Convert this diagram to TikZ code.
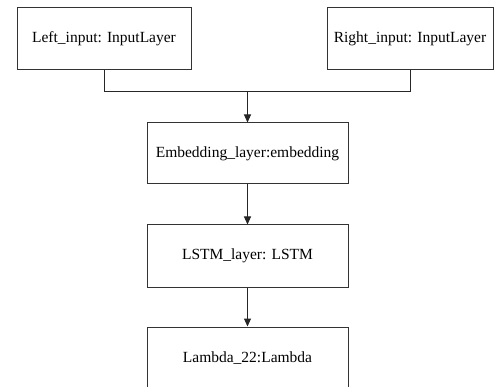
\documentclass[tikz,border=0pt]{standalone}
\usepackage{fontspec}
\setmainfont{Liberation Serif}
\usetikzlibrary{arrows.meta}

\tikzset{
    layerbox/.style={draw=black!80, line width=1pt, fill=white, inner sep=0pt,
        minimum height=62pt, font=\fontsize{15.5}{18}\selectfont},
    link/.style={draw=black!85, line width=1pt},
    flow/.style={link, -{Triangle[length=8pt,width=7pt]}}
}

\begin{document}
\begin{tikzpicture}[x=1pt, y=-1pt]
    \useasboundingbox (0,0) rectangle (495,387);
    \clip (0,0) rectangle (495,387);
    \node[layerbox, minimum width=174pt] (left) at (104,39) {Left\_input: InputLayer};
    \node[layerbox, minimum width=166pt] (right) at (410,39) {Right\_input: InputLayer};
    \node[layerbox, minimum width=201pt, minimum height=61pt] (embed) at (247.5,153.5) {Embedding\_layer:embedding};
    \node[layerbox, minimum width=201pt] (lstm) at (247.5,256) {LSTM\_layer: LSTM};
    \node[layerbox, minimum width=201pt] (lambda) at (247.5,358) {Lambda\_22:Lambda};
    \coordinate (join) at (247.5,92);
    \draw[link] (left.south) |- (join);
    \draw[link] (right.south) |- (join);
    \draw[flow] (join) -- (embed.north);
    \draw[flow] (embed.south) -- (lstm.north);
    \draw[flow] (lstm.south) -- (lambda.north);
\end{tikzpicture}
\end{document}
